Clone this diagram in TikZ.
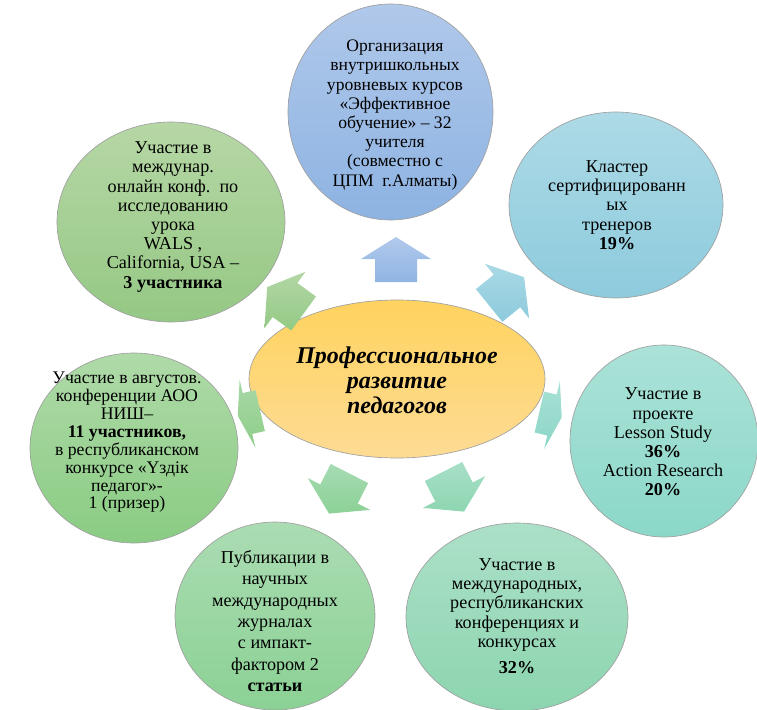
\documentclass[tikz,border=0pt]{standalone}
\usepackage{fontspec}
\setmainfont{Liberation Serif}
\usetikzlibrary{shapes.geometric}
\definecolor{gline}{HTML}{A0A0A0}
\tikzset{
  bubble/.style={ellipse, draw=gline, line width=0.5pt, inner sep=0pt},
  txt/.style={align=center, inner sep=0pt, font=\fontsize{13.6}{14.4}\selectfont},
  ctxt/.style={align=center, inner sep=0pt, font=\fontsize{18}{18.8}\selectfont\bfseries\itshape},
}
\newcommand\myarrow[6]{%
  \begin{scope}[shift={(#1,#2)}]
    \shade[#6] ([rotate=#3]-#4,-21) -- ([rotate=#3]0,-21) -- ([rotate=#3]0,-35)
      -- ([rotate=#3]#5,0) -- ([rotate=#3]0,35) -- ([rotate=#3]0,21)
      -- ([rotate=#3]-#4,21) -- cycle;
  \end{scope}}
\begin{document}
\begin{tikzpicture}[x=0.75pt,y=-0.75pt]
\useasboundingbox (0,0) rectangle (757,710);
% circles
\node[bubble, minimum width=205*0.75pt, minimum height=216*0.75pt, top color={rgb,255:red,176;green,200;blue,234}, bottom color={rgb,255:red,141;green,179;blue,226}] (c1) at (390.5,112) {};
\node[bubble, minimum width=214*0.75pt, minimum height=186*0.75pt, top color={rgb,255:red,173;green,218;blue,230}, bottom color={rgb,255:red,141;green,203;blue,221}] (c2) at (616,205) {};
\node[bubble, minimum width=188*0.75pt, minimum height=192*0.75pt, top color={rgb,255:red,171;green,226;blue,216}, bottom color={rgb,255:red,139;green,216;blue,200}] (c3) at (664,441) {};
\node[bubble, minimum width=222*0.75pt, minimum height=188*0.75pt, top color={rgb,255:red,172;green,224;blue,200}, bottom color={rgb,255:red,140;green,213;blue,175}] (c4) at (517,617) {};
\node[bubble, minimum width=200*0.75pt, minimum height=188*0.75pt, top color={rgb,255:red,171;green,220;blue,179}, bottom color={rgb,255:red,139;green,209;blue,148}] (c5) at (275,616) {};
\node[bubble, minimum width=208*0.75pt, minimum height=190*0.75pt, top color={rgb,255:red,175;green,218;blue,168}, bottom color={rgb,255:red,138;green,204;blue,131}] (c6) at (134,448) {};
\node[bubble, minimum width=228*0.75pt, minimum height=200*0.75pt, top color={rgb,255:red,182;green,215;blue,165}, bottom color={rgb,255:red,149;green,200;blue,132}] (c7) at (171,222) {};
\node[bubble, minimum width=296*0.75pt, minimum height=158*0.75pt, top color={rgb,255:red,255;green,211;blue,95}, bottom color={rgb,255:red,253;green,219;blue,148}] (ctr) at (397,379) {};
% arrows
\myarrow{396}{259}{90}{23}{22}{top color={rgb,255:red,178;green,201;blue,235}, bottom color={rgb,255:red,143;green,181;blue,227}}
\myarrow{507}{291}{39}{23}{22}{top color={rgb,255:red,169;green,217;blue,229}, bottom color={rgb,255:red,141;green,202;blue,220}}
\myarrow{552}{415}{-13}{13}{10}{top color={rgb,255:red,168;green,225;blue,214}, bottom color={rgb,255:red,140;green,214;blue,198}}
\myarrow{454}{492}{297}{23}{22}{top color={rgb,255:red,168;green,223;blue,199}, bottom color={rgb,255:red,142;green,214;blue,178}}
\myarrow{339}{494}{243}{23}{22}{top color={rgb,255:red,167;green,219;blue,179}, bottom color={rgb,255:red,140;green,209;blue,150}}
\myarrow{247.5}{413.5}{193}{13}{10}{top color={rgb,255:red,169;green,216;blue,168}, bottom color={rgb,255:red,142;green,206;blue,136}}
\myarrow{285}{300}{144}{23}{22}{top color={rgb,255:red,179;green,214;blue,165}, bottom color={rgb,255:red,147;green,202;blue,133}}
% texts
\node[txt, font=\fontsize{13.2}{14.4}\selectfont] (t1) at (395,115) {Организация\\внутришкольных\\уровневых курсов\\«Эффективное\\обучение» – 32\\учителя\\(совместно с\\ЦПМ~~г.Алматы)};
\node[txt] (t7) at (173,217) {Участие в\\междунар.\\онлайн~конф.~~по\\исследованию\\урока\\WALS ,\\California, USA –\\\textbf{3 участника}};
\node[txt] (t2) at (617,205) {Кластер\\сертифицированн\\ых\\тренеров\\\textbf{19\%}};
\node[txt, font=\fontsize{13.3}{13.4}\selectfont] (t6) at (127,442.5) {Участие в августов.\\конференции АОО\\НИШ–\\\textbf{11 участников,}\\в республиканском\\конкурсе «Үздік\\педагог»-\\1 (призер)};
\node[txt] (t3) at (663,442) {Участие в\\проекте\\Lesson Study\\\textbf{36\%}\\Action Research\\\textbf{20\%}};
\node[txt] (t4) at (517,616) {Участие в\\международных,\\республиканских\\конференциях и\\конкурсах\\[5pt]\textbf{32\%}};
\node[txt, font=\fontsize{13.6}{16}\selectfont] (t5) at (275,621) {Публикации в\\научных\\международных\\журналах\\с импакт-\\фактором 2\\\textbf{статьи}};
\node[ctxt] (tc) at (397,380) {Профессиональное\\развитие\\педагогов};
\end{tikzpicture}
\end{document}
